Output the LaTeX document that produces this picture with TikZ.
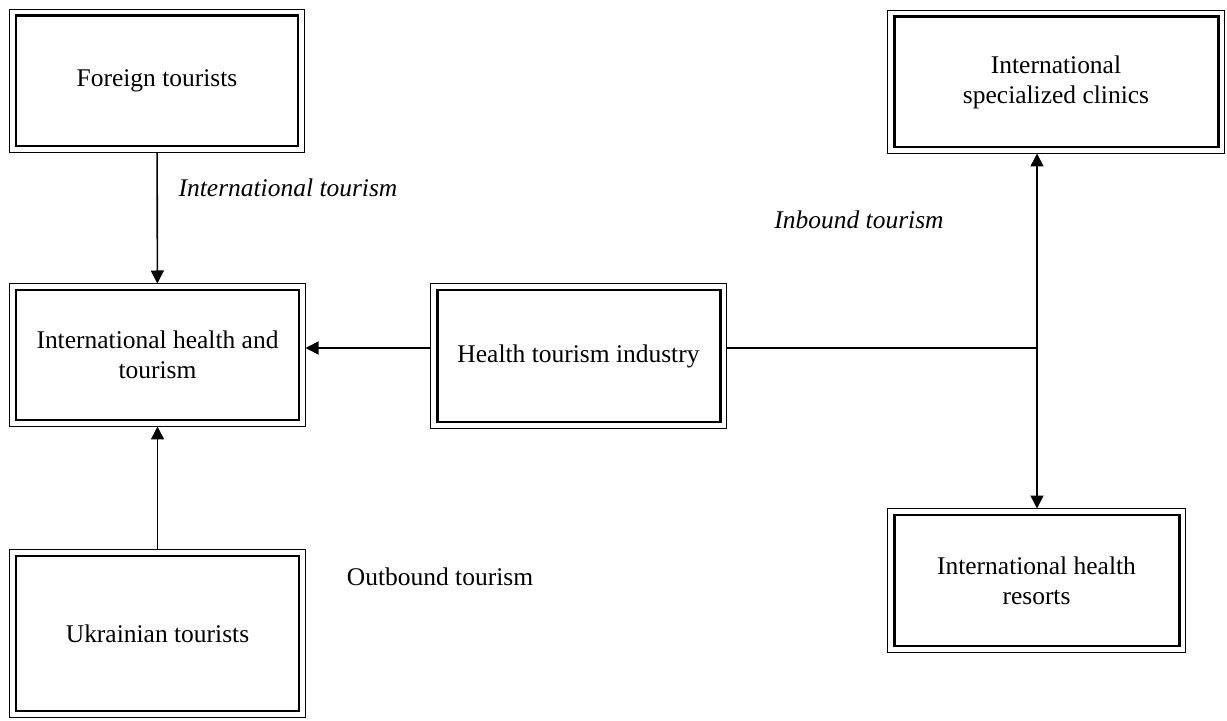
\documentclass[tikz,border=0pt]{standalone}
\usepackage{fontspec}
\setmainfont{Liberation Serif}
\usetikzlibrary{arrows.meta}
\tikzset{
  >={Triangle[length=0.26cm,width=0.26cm]},
  tbox/.style={draw, line width=1.7pt, outer sep=0.13cm, align=center,
    font=\fontsize{14.5}{17}\selectfont},
  lbl/.style={font=\fontsize{14.5}{17}\selectfont}
}
\begin{document}
\begin{tikzpicture}[line width=0.9pt]
\useasboundingbox (0,0) rectangle (24.54,14.4);
\node [tbox, minimum width=5.64cm, minimum height=2.6cm] (FT) at (3.14,12.78){Foreign tourists};
\node [tbox, minimum width=5.66cm, minimum height=2.6cm] (IHT) at (3.15,7.3){International health and\\tourism};
\node [tbox, minimum width=5.66cm, minimum height=2.64cm] (HTI) at (11.57,7.28){Health tourism industry};
\node [tbox, minimum width=6.48cm, minimum height=2.6cm] (C) at (21.12,12.76){International\\specialized clinics};
\node [tbox, minimum width=5.7cm, minimum height=2.62cm] (R) at (20.73,2.79){International health\\resorts};
\node [tbox, minimum width=5.66cm, minimum height=3.1cm] (UT) at (3.15,1.73){Ukrainian tourists};
\node [lbl, font=\fontsize{14.5}{17}\selectfont\itshape] (lIntl) at (5.76,10.64){International tourism};
\node [lbl, font=\fontsize{14.5}{17}\selectfont\itshape] (lIn) at (17.18,10.0){Inbound tourism};
\node [lbl] (lOut) at (8.8,2.86){Outbound tourism};
\coordinate (J) at (20.74,7.44);
\foreach \n in {FT,IHT,HTI,C,R,UT}
  \draw[line width=0.7pt] (\n.north west) rectangle (\n.south east);
\draw[->] (FT) -- (IHT);
\draw[->] (UT) -- (IHT);
\draw[->] (HTI.west |- J) -- (IHT.east |- J);
\draw (HTI.east |- J) -- (J);
\draw[->] (J) -- (C.south -| J);
\draw[->] (J) -- (R.north -| J);
\end{tikzpicture}
\end{document}
